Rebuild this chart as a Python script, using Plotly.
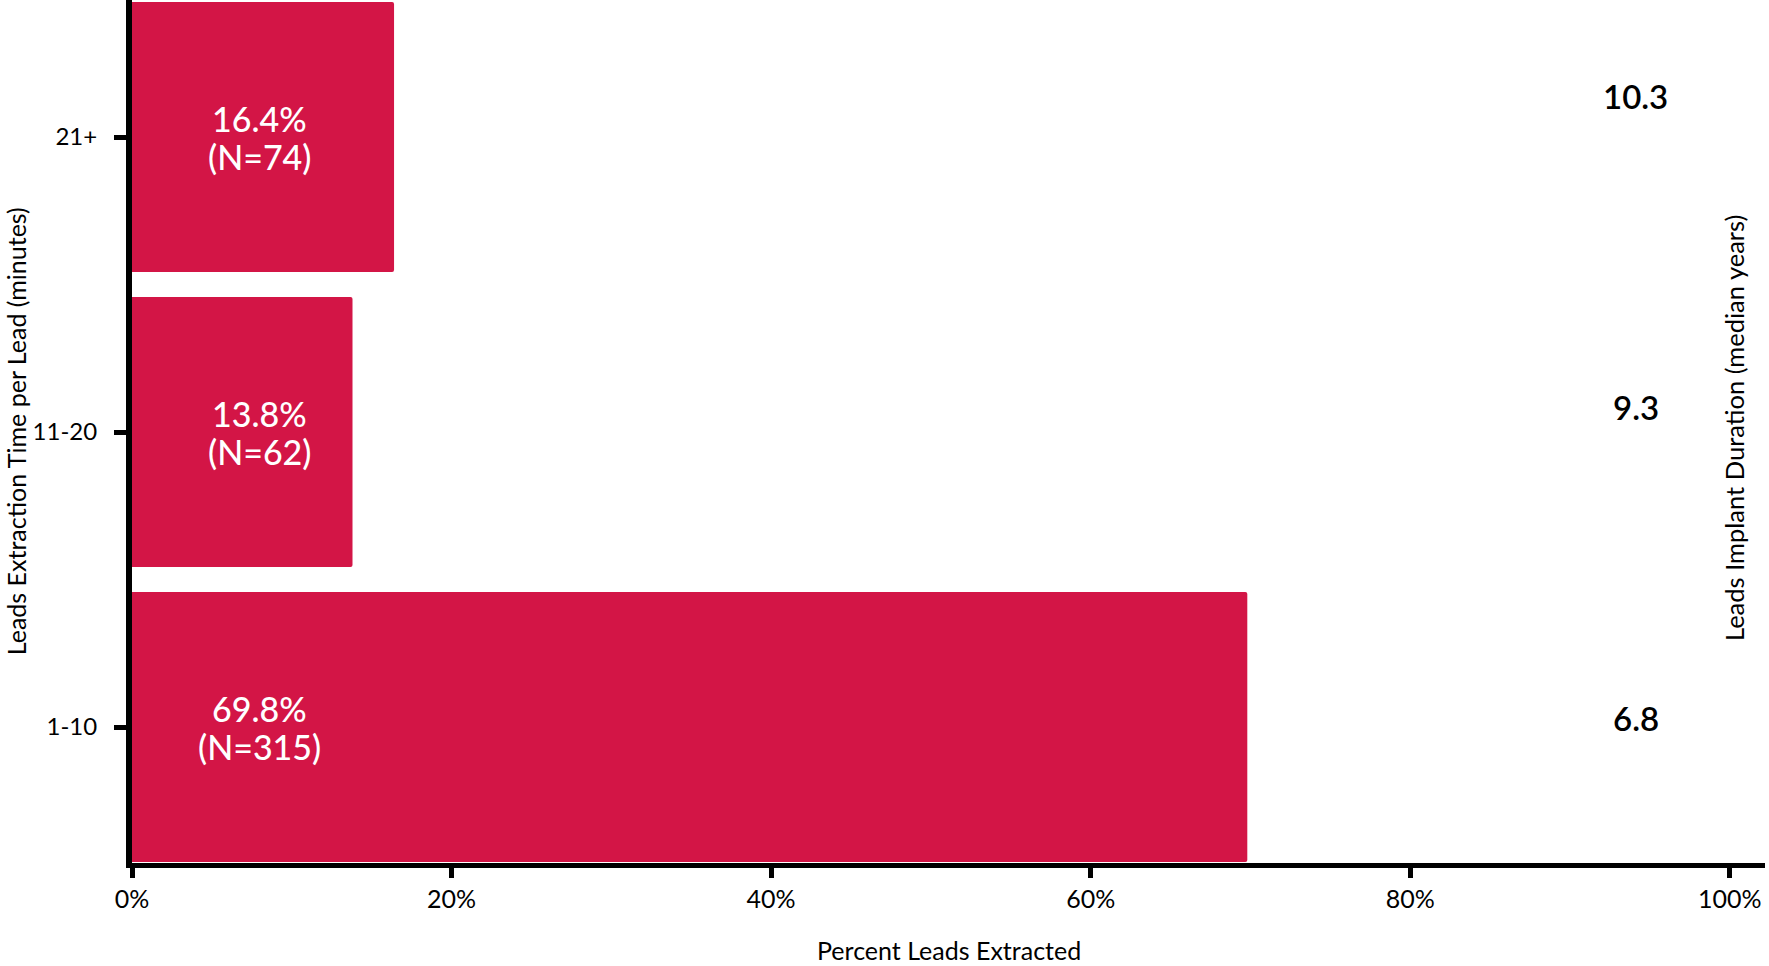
import plotly.graph_objects as go

# Data
categories = ["1-10", "11-20", "21+"]
percents = [69.8, 13.8, 16.4]
counts = [315, 62, 74]
median_years = [6.8, 9.3, 10.3]
x_ticks = [0, 20, 40, 60, 80, 100]

BAR = "#D31546"
FONT = "Lato, 'Open Sans', Arial, sans-serif"

fig = go.Figure()
fig.add_trace(go.Bar(
    y=categories, x=percents, orientation="h",
    marker=dict(color=BAR, line=dict(width=0), cornerradius=2),
    hoverinfo="skip", showlegend=False,
))

annotations = []
# bar labels at fixed x inside bars (two lines)
for c, p, n in zip(categories, percents, counts):
    annotations.append(dict(
        x=8, y=c, xref="x", yref="y", showarrow=False, yshift=19,
        text=f"{p:.1f}%", font=dict(family=FONT, size=34, color="white", weight=500),
        xanchor="center", yanchor="middle",
    ))
    annotations.append(dict(
        x=8, y=c, xref="x", yref="y", showarrow=False, yshift=-19,
        text=f"(N={n})", font=dict(family=FONT, size=34, color="white", weight=500),
        xanchor="center", yanchor="middle",
    ))

# right-side median years
right_y = [0.168, 0.528, 0.889]
for v, ry in zip(median_years, right_y):
    annotations.append(dict(
        x=0.921, y=ry, xref="paper", yref="paper", showarrow=False,
        text=f"{v:.1f}", font=dict(family=FONT, size=33, color="black", weight=600),
        xanchor="center", yanchor="middle",
    ))

# axis titles
annotations.append(dict(
    x=0.5, y=-0.1008, xref="paper", yref="paper", showarrow=False,
    text="Percent Leads Extracted", font=dict(family=FONT, size=25, color="black"),
    xanchor="center", yanchor="middle",
))
annotations.append(dict(
    x=-0.0712, y=0.50, xref="paper", yref="paper", showarrow=False, textangle=-90,
    text="Leads Extraction Time per Lead (minutes)", font=dict(family=FONT, size=25, color="black"),
    xanchor="center", yanchor="middle",
))
annotations.append(dict(
    x=0.981, y=0.504, xref="paper", yref="paper", showarrow=False, textangle=-90,
    text="Leads Implant Duration (median years)", font=dict(family=FONT, size=25.5, color="black"),
    xanchor="center", yanchor="middle",
))

fig.update_layout(
    width=1769, height=966,
    margin=dict(l=132, r=4, t=0, b=103),
    paper_bgcolor="white", plot_bgcolor="white",
    bargap=0.085,
    annotations=annotations,
    font=dict(family=FONT, color="black"),
)
fig.update_xaxes(
    range=[0, 102.2], tickvals=x_ticks, ticktext=[f"{t}%" for t in x_ticks],
    showline=True, linecolor="black", linewidth=5,
    ticks="outside", ticklen=10, tickwidth=5, tickcolor="black",
    showgrid=False, zeroline=False,
    tickfont=dict(family=FONT, size=25, color="black"),
)
fig.update_yaxes(
    range=[-0.461, 2.4645], categoryorder="array", categoryarray=categories,
    showline=True, linecolor="black", linewidth=6,
    ticks="outside", ticklen=12, tickwidth=5, tickcolor="black",
    showgrid=False, zeroline=False, ticklabelstandoff=12,
    tickfont=dict(family=FONT, size=24, color="black"),
)

fig.write_html(
    "out.html",
    config={"displayModeBar": False},
    post_script="document.body.style.margin='0';document.body.style.overflow='hidden';",
)
